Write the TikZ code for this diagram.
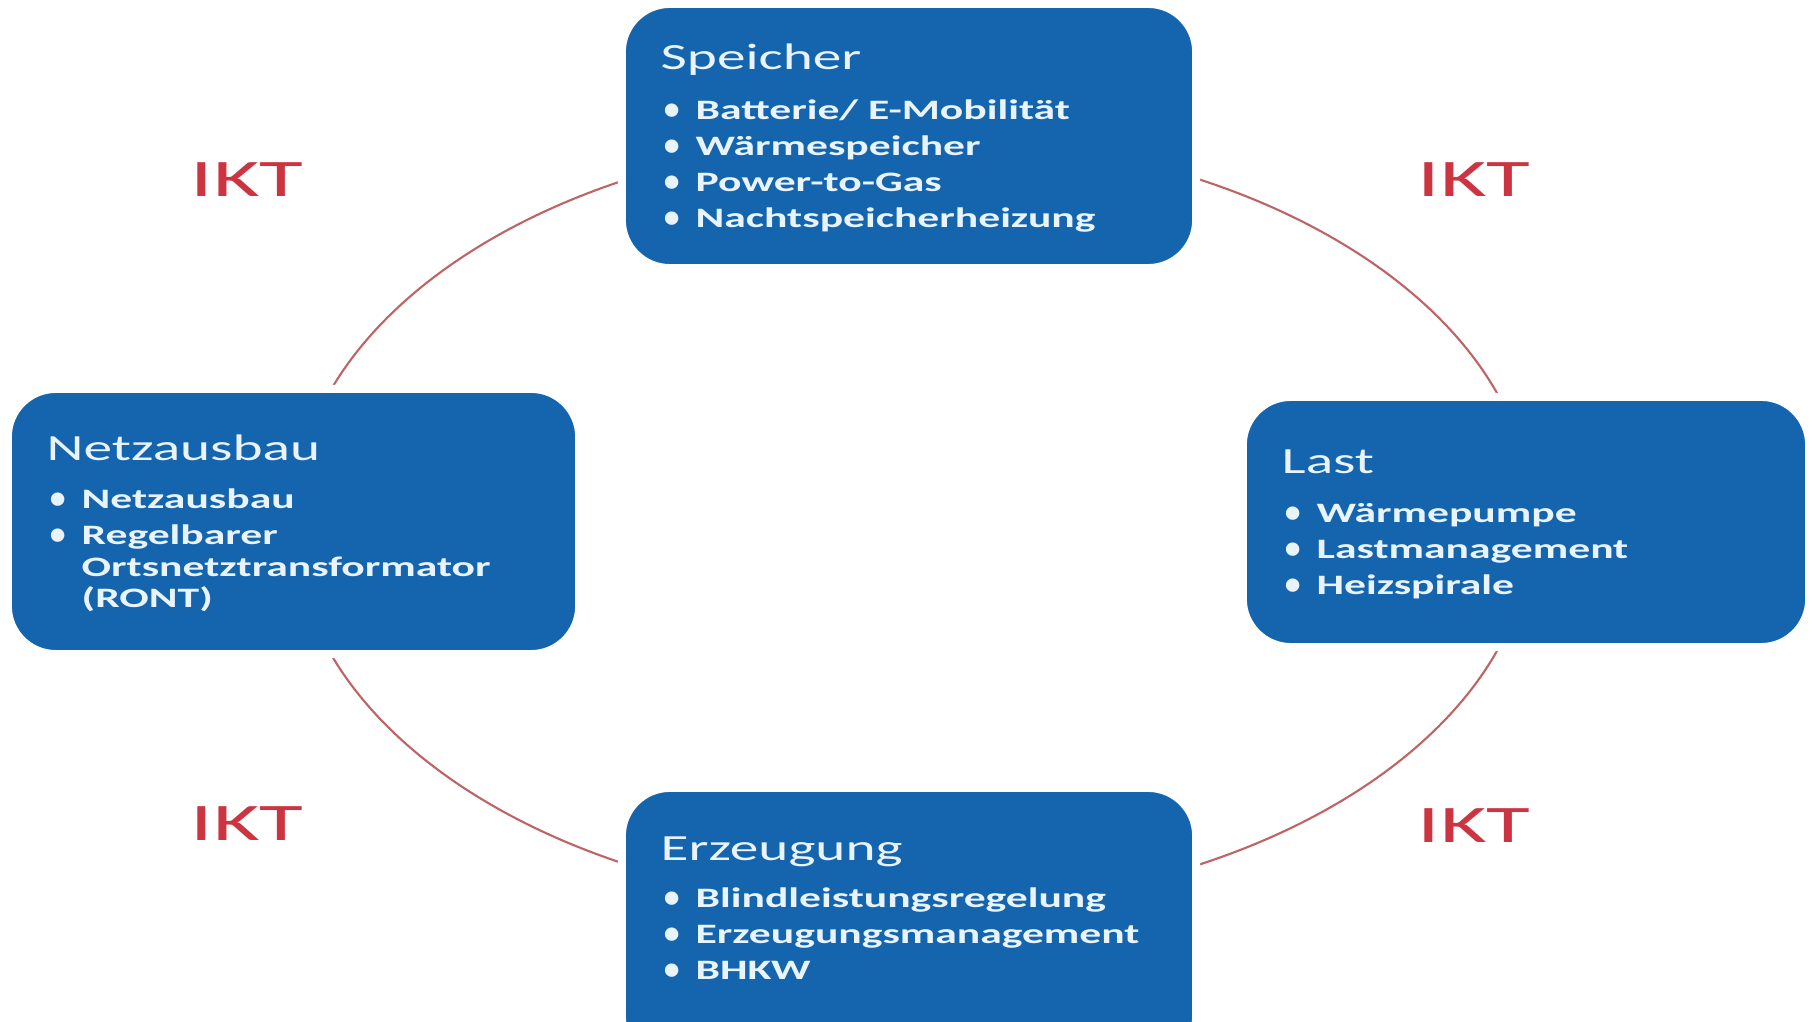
\documentclass[tikz,border=0pt]{standalone}
\usepackage{fontspec}
\setmainfont{Carlito}[FakeStretch=1.55]
\newfontfamily\iktfont{Carlito}[FakeStretch=1.7]
\newfontfamily\dotfont{Carlito}

\definecolor{boxblue}{RGB}{21,100,174}
\definecolor{boxtext}{RGB}{232,243,252}
\definecolor{iktred}{RGB}{204,52,66}
\definecolor{ringred}{RGB}{190,100,100}

\tikzset{
  area/.style={fill=boxblue, draw=white, line width=0.08cm, rounded corners=0.48cm,
    inner sep=0pt, outer sep=0pt},
  heading/.style={anchor=base west, inner sep=0pt, text=boxtext,
    font=\fontsize{10.5}{12}\selectfont},
  entry/.style={anchor=base west, inner sep=0pt, text=boxtext,
    font=\bfseries\fontsize{8}{9.6}\selectfont},
  ikt/.style={anchor=base, inner sep=0pt, text=iktred,
    font=\iktfont\fontsize{15}{18}\selectfont},
  ring/.style={draw=ringred, line width=0.6pt},
}
\newcommand\dotitem[1]{\llap{{\dotfont\bfseries\fontsize{9}{9}\selectfont\textbullet}\hspace{4.6pt}}#1}

\begin{document}
\begin{tikzpicture}[x=0.01cm, y=-0.01cm]
  \useasboundingbox (0,0) rectangle (1814,1022);
  \clip (0,0) rectangle (1814,1022);
  \fill[white] (0,0) rectangle (1814,1022);

  % the ring joining the four fields
  \coordinate (ringc) at (913,522);
  \draw[ring] (ringc) ellipse [x radius=6.19cm, y radius=3.86cm];

  % fields
  \node[area, minimum width=5.74cm, minimum height=2.64cm] (speicher) at (909,136) {};
  \node[area, minimum width=5.71cm, minimum height=2.65cm] (netz) at (293.5,521.5) {};
  \node[area, minimum width=5.66cm, minimum height=2.50cm] (last) at (1526,522) {};
  \node[area, minimum width=5.74cm, minimum height=2.76cm] (erz) at (909,926) {};

  % Speicher
  \node[heading] (sp-t) at (660,70) {Speicher};
  \node[entry] (sp-1) at (695,120) {\dotitem{Batterie/ E-Mobilität}};
  \node[entry] (sp-2) at (695,156) {\dotitem{Wärmespeicher}};
  \node[entry] (sp-3) at (695,192) {\dotitem{Power-to-Gas}};
  \node[entry] (sp-4) at (695,228) {\dotitem{Nachtspeicherheizung}};

  % Netzausbau
  \node[heading] (nz-t) at (46,461) {Netzausbau};
  \node[entry] (nz-1) at (81,509) {\dotitem{Netzausbau}};
  \node[entry] (nz-2) at (81,545) {\dotitem{Regelbarer}};
  \node[entry] (nz-3) at (81,577) {Ortsnetztransformator};
  \node[entry] (nz-4) at (81,608) {(RONT)};

  % Last
  \node[heading] (la-t) at (1281,474) {Last};
  \node[entry] (la-1) at (1316,523) {\dotitem{Wärmepumpe}};
  \node[entry] (la-2) at (1316,559) {\dotitem{Lastmanagement}};
  \node[entry] (la-3) at (1316,595) {\dotitem{Heizspirale}};

  % Erzeugung
  \node[heading] (ez-t) at (660,861) {Erzeugung};
  \node[entry] (ez-1) at (695,908) {\dotitem{Blindleistungsregelung}};
  \node[entry] (ez-2) at (695,944) {\dotitem{Erzeugungsmanagement}};
  \node[entry] (ez-3) at (695,980) {\dotitem{BHKW}};

  % IKT labels between the fields
  \node[ikt] (ikt-nw) at (247,197) {IKT};
  \node[ikt] (ikt-ne) at (1474,197) {IKT};
  \node[ikt] (ikt-sw) at (247,841) {IKT};
  \node[ikt] (ikt-se) at (1474,843) {IKT};
\end{tikzpicture}
\end{document}
